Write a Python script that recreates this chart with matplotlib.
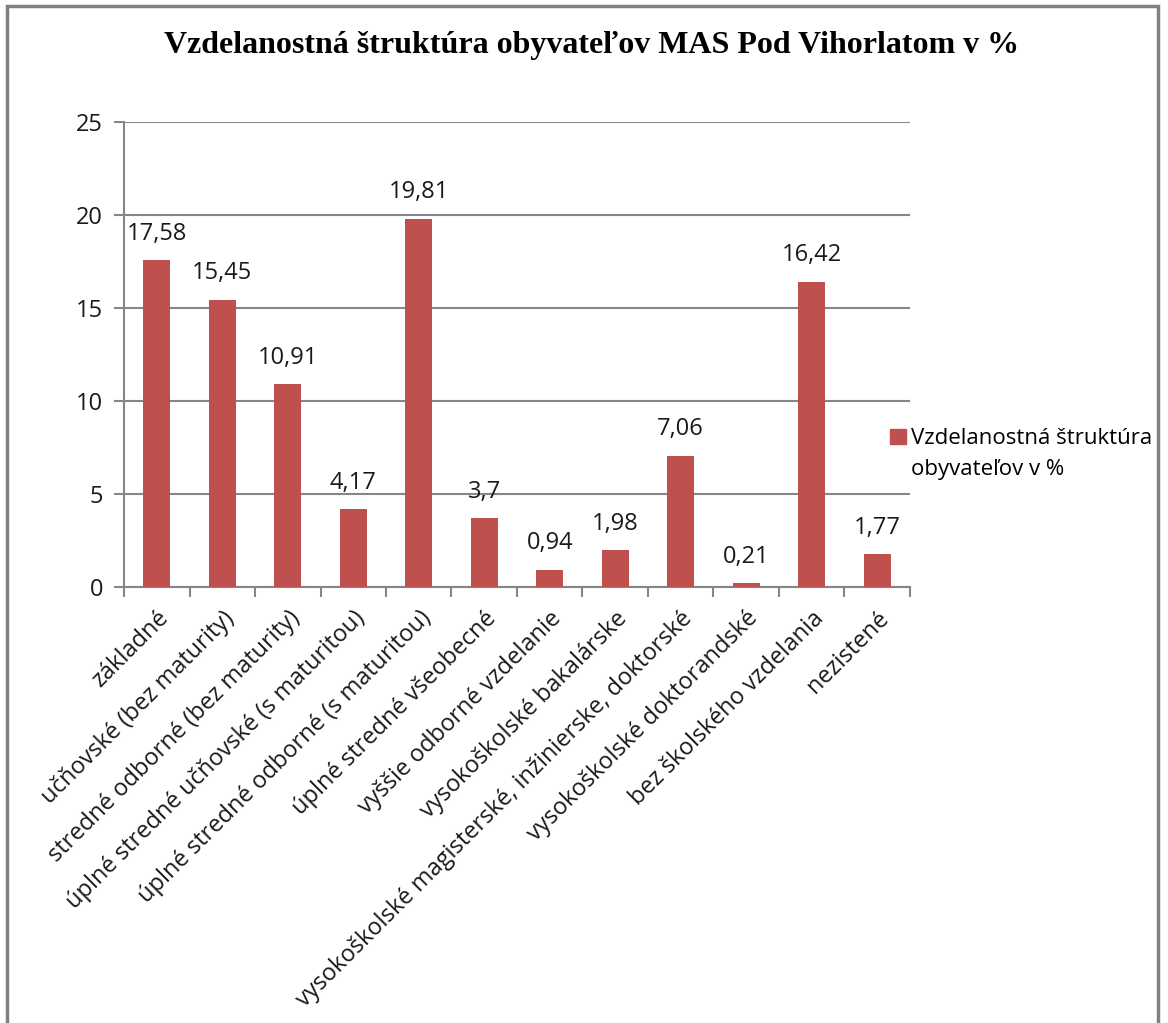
import matplotlib.pyplot as plt
import matplotlib.patches as mpatches
from matplotlib.legend_handler import HandlerPatch
import numpy as np

categories = [
    'základné',
    'učňovské (bez maturity)',
    'stredné odborné (bez maturity)',
    'úplné stredné učňovské (s maturitou)',
    'úplné stredné odborné (s maturitou)',
    'úplné stredné všeobecné',
    'vyššie odborné vzdelanie',
    'vysokoškolské bakalárske',
    'vysokoškolské magisterské, inžinierske, doktorské',
    'vysokoškolské doktorandské',
    'bez školského vzdelania',
    'nezistené',
]
values = [17.58, 15.45, 10.91, 4.17, 19.81, 3.7, 0.94, 1.98, 7.06, 0.21, 16.42, 1.77]
series_name = 'Vzdelanostná štruktúra\nobyvateľov v %'
title = 'Vzdelanostná štruktúra obyvateľov MAS Pod Vihorlatom v %'

bar_color = '#C0504D'
grid_color = '#868686'
sans = ['Open Sans', 'DejaVu Sans']

W, H = 1168, 1023
fig = plt.figure(figsize=(W / 100, H / 100), dpi=100)

# outer chart border
fig.add_artist(mpatches.Rectangle((7 / W, -0.01), 1151 / W, 1.01 - 6 / H,
                                  transform=fig.transFigure, fill=False,
                                  edgecolor='#808080', linewidth=2.5))

ax = fig.add_axes([124 / W, 1 - 587 / H, (910 - 124) / W, (587 - 122) / H])
x = np.arange(len(values))
ax.bar(x, values, width=0.41, color=bar_color, zorder=3)

for xi, v in zip(x, values):
    ax.annotate(f'{v:g}'.replace('.', ','), (xi, v), xytext=(0, 19),
                textcoords='offset points', ha='center', va='center',
                fontsize=17, family=sans, color='#1a1a1a')

ax.set_xlim(-0.5, len(values) - 0.5)
ax.set_ylim(0, 25)
ax.set_yticks(np.arange(0, 26, 5))
ax.yaxis.grid(True, color=grid_color, linewidth=1.5, zorder=0)
ax.set_axisbelow(True)

ax.set_xticks(np.arange(len(values) + 1) - 0.5, minor=False)
ax.set_xticklabels([])
ax.set_xticks(x, minor=True)
ax.set_xticklabels(categories, minor=True, rotation=45, ha='right',
                   rotation_mode='anchor', fontsize=17, family=sans,
                   color='#1a1a1a')
ax.tick_params(axis='x', which='minor', length=0, pad=14)
ax.tick_params(axis='x', which='major', length=7, width=1.5, color=grid_color)
ax.tick_params(axis='y', length=7, width=1.5, color=grid_color, labelsize=17,
               pad=8, labelcolor='#1a1a1a')
for lab in ax.get_yticklabels():
    lab.set_family(sans)

for side in ['top', 'right']:
    ax.spines[side].set_visible(False)
for side in ['left', 'bottom']:
    ax.spines[side].set_color(grid_color)
    ax.spines[side].set_linewidth(1.5)


# legend marker sits next to the first line of the two-line label
def top_square(legend, orig_handle, xdescent, ydescent, width, height, fontsize):
    return mpatches.Rectangle((-xdescent, -ydescent + 13), width, height)


handle = mpatches.Patch(color=bar_color)
leg = fig.legend([handle], [series_name], loc='upper left',
                 bbox_to_anchor=(870 / W, 1 - 408 / H), frameon=False,
                 prop={'family': sans, 'size': 16}, handlelength=0.7,
                 handleheight=0.7, handletextpad=0.25,
                 handler_map={mpatches.Patch: HandlerPatch(patch_func=top_square)})
leg.get_texts()[0].set_linespacing(1.65)

fig.text(592 / W, 1 - 45 / H, title, ha='center', va='center',
         fontsize=23, fontweight='bold', family='Liberation Serif')

fig.savefig('out.png', dpi=100)
